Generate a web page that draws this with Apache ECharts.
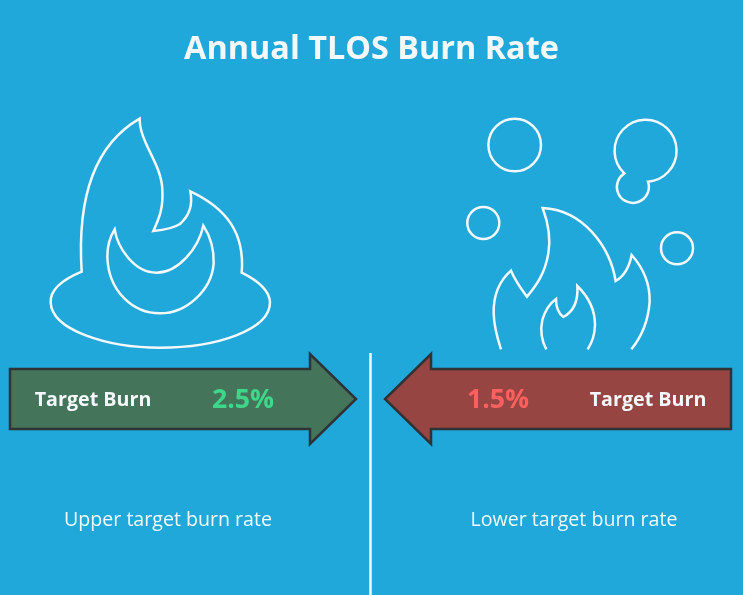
<!DOCTYPE html>
<html><head><meta charset="utf-8">
<style>html,body{margin:0;padding:0;background:#1fa8d9}#c{width:743px;height:595px}</style>
<script src="https://cdn.jsdelivr.net/npm/echarts@6/dist/echarts.min.js"></script>
</head><body><div id="c"></div>
<script>
const chartTitle = 'Annual TLOS Burn Rate';
const arrowLabels = ['Target Burn', 'Target Burn'];
const burnRates = [2.5, 1.5];
const captions = ['Upper target burn rate', 'Lower target burn rate'];
const arrowFills = ['#44755a', '#964542'];
const rateColors = ['#3fd68a', '#ff5f5f'];

const FONT = '"Open Sans", Lato, sans-serif';
const WHITE = '#f4f8fa', BG = '#1fa8d9', EDGE = '#2f3336';

const iconStyle = {fill: 'none', stroke: WHITE, lineWidth: 7.5, lineJoin: 'miter', lineCap: 'butt'};
function icon(pathData, ox, oy) {
  return {type: 'path', x: ox, y: oy, scaleX: 1/3, scaleY: 1/3, shape: {pathData}, style: iconStyle, silent: true};
}
const leftIcon = [
 'M329 56 C200 130 140 280 155 515 C95 540 60 570 62 607 C65 690 230 743 390 743 C560 743 720 690 720 607 C718 570 680 540 635 518 C645 400 590 325 481 274 C490 320 475 350 450 372 C430 385 400 390 370 393 C390 350 400 320 397 270 C395 190 329 130 329 56 Z',
 'M254 388 C262 440 310 518 380 518 C445 518 505 445 520 377 C545 415 552 450 551 490 C545 570 470 640 390 640 C310 640 235 575 232 470 C232 440 240 410 254 388 Z'
];
const rightIcon = [
 'M523 220 A93 93 0 1 1 594 245 A48 48 0 1 1 523 220 Z',
 'M153 748 C142 715 132 680 131 640 C130 590 145 545 183 512 C195 540 212 565 231 590 C260 555 285 520 295 460 C302 420 295 370 278 324 C400 330 480 440 497 543 C520 530 538 500 545 465 C585 510 600 555 599 605 C595 660 575 710 544 748',
 'M289 748 C275 725 270 690 277 660 C284 635 300 610 318 597 C318 620 325 640 340 651 C370 635 385 605 382 558 C415 590 435 630 435 675 C434 705 425 730 413 748'
];
const bubbles = [[514.7, 145, 26.3], [483.3, 223, 16], [677, 248.3, 16]];

function txt(x, y, text, size, fill, weight, align) {
  return {type: 'text', x, y, silent: true,
    style: {text, fontSize: size, fontFamily: FONT, fontWeight: weight, fill, align: align || 'center', verticalAlign: 'middle'}};
}
function arrow(i) {
  const pts = i === 0
    ? [[10,369],[310,369],[310,354],[356,399],[310,444],[310,429],[10,429]]
    : [[731,369],[431,369],[431,354],[385,399],[431,444],[431,429],[731,429]];
  return {type: 'polygon', shape: {points: pts}, silent: true,
    style: {fill: arrowFills[i], stroke: EDGE, lineWidth: 2.5, lineJoin: 'miter'}};
}
const textPos = [
  {label: 93, rate: 243, caption: 168},
  {label: 648, rate: 498, caption: 574}
];

const chart = echarts.init(document.getElementById('c'), null, {renderer: 'canvas'});
chart.setOption({
  backgroundColor: BG,
  animation: false,
  title: {text: chartTitle, left: 'center', top: 29,
    textStyle: {color: WHITE, fontFamily: FONT, fontSize: 32.4, fontWeight: 'bold'}},
  series: [{
    type: 'custom',
    coordinateSystem: 'none',
    silent: true,
    data: burnRates,
    renderItem(params, api) {
      const i = params.dataIndex;
      const v = api.value(0);
      const children = [arrow(i),
        txt(textPos[i].label, 400, arrowLabels[i], 19.7, WHITE, 'bold'),
        txt(textPos[i].rate, 400, v.toFixed(1) + '%', 26.7, rateColors[i], 'bold'),
        txt(textPos[i].caption, 520, captions[i], 19.6, WHITE, 'normal')];
      if (i === 0) {
        leftIcon.forEach(p => children.push(icon(p, 30, 100)));
        children.push({type: 'line', silent: true, shape: {x1: 370.5, y1: 353, x2: 370.5, y2: 595},
          style: {stroke: WHITE, lineWidth: 2.5}});
      } else {
        rightIcon.forEach(p => children.push(icon(p, 450, 100)));
        bubbles.forEach(b => children.push({type: 'circle', silent: true, shape: {cx: b[0], cy: b[1], r: b[2]},
          style: {fill: 'none', stroke: WHITE, lineWidth: 2.5}}));
      }
      return {type: 'group', children};
    }
  }]
});
</script></body></html>
